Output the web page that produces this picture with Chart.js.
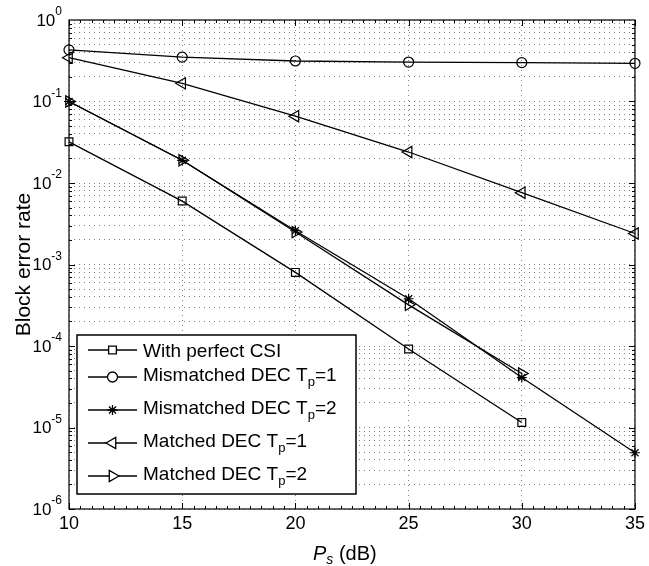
<!DOCTYPE html>
<html>
<head>
<meta charset="utf-8">
<script src="https://cdn.jsdelivr.net/npm/chart.js@4.4.1/dist/chart.umd.min.js"></script>
<style>
  html, body { margin: 0; padding: 0; background: #fff; }
  #wrap { width: 649px; height: 566px; position: relative; }
</style>
</head>
<body>
<div id="wrap"><canvas id="chart" width="649" height="566"></canvas></div>
<script>
// data
const xValues = [10, 15, 20, 25, 30, 35]
const perfectCSI = [0.032, 0.006, 0.0008, 0.000092, 0.0000115]
const mismatchedTp1 = [0.43, 0.35, 0.314, 0.305, 0.30, 0.294]
const mismatchedTp2 = [0.10, 0.019, 0.0026, 0.00038, 0.000041, 0.0000049]
const matchedTp1 = [0.345, 0.167, 0.066, 0.024, 0.0076, 0.0024]
const matchedTp2 = [0.10, 0.019, 0.0025, 0.00032, 0.000046]
const xTicks = [10, 15, 20, 25, 30, 35]
const yTickExponents = [0, -1, -2, -3, -4, -5, -6]

const FONT = "'Liberation Sans', Arial, Helvetica, sans-serif"

const toPoints = (ys) => ys.map((y, i) => ({ x: xValues[i], y }))

function series(label, ys, style, rotation, radius) {
  return {
    label,
    data: toPoints(ys),
    borderColor: '#000',
    borderWidth: 1.3,
    pointStyle: style,
    rotation: rotation || 0,
    pointRadius: radius,
    pointBorderColor: '#000',
    pointBackgroundColor: 'rgba(0,0,0,0)',
    pointBorderWidth: 1.2,
    clip: false,
    // legend parts: text before and after the subscript
    legendParts: label.includes('T_p') ? label.split(/T_p/) : [label],
  }
}

const datasets = [
  series('With perfect CSI', perfectCSI, 'rect', 0, 5.5),
  series('Mismatched DEC T_p=1', mismatchedTp1, 'circle', 0, 5),
  series('Mismatched DEC T_p=2', mismatchedTp2, 'star', 0, 5),
  series('Matched DEC T_p=1', matchedTp1, 'triangle', -90, 6.5),
  series('Matched DEC T_p=2', matchedTp2, 'triangle', 90, 6.5),
]

// frame, inward tick marks, y labels, axis titles and legend
const decorations = {
  id: 'decorations',
  afterDatasetsDraw(chart) {
    const { ctx, chartArea: a, scales } = chart
    const xs = scales.x, ys = scales.y
    ctx.save()
    ctx.strokeStyle = '#000'
    ctx.lineWidth = 1.2
    ctx.strokeRect(a.left, a.top, a.right - a.left, a.bottom - a.top)

    // y ticks (major + minor), both sides
    ctx.lineWidth = 1
    ctx.beginPath()
    for (let e = 0; e >= -6; e--) {
      for (let m = 1; m <= 9; m++) {
        const v = m * Math.pow(10, e - 1)
        if (v < 1e-6 || v > 1) continue
        const y = Math.round(ys.getPixelForValue(v)) + 0.5
        const len = m === 1 ? 6 : 3
        ctx.moveTo(a.left, y); ctx.lineTo(a.left + len, y)
        ctx.moveTo(a.right, y); ctx.lineTo(a.right - len, y)
      }
    }
    // x ticks
    for (let v = 10; v <= 35; v += 0.5) {
      const x = Math.round(xs.getPixelForValue(v)) + 0.5
      const len = v % 5 === 0 ? 6 : 3
      ctx.moveTo(x, a.bottom); ctx.lineTo(x, a.bottom - len)
      ctx.moveTo(x, a.top); ctx.lineTo(x, a.top + len)
    }
    ctx.stroke()

    // y tick labels 10^e
    ctx.fillStyle = '#000'
    ctx.textBaseline = 'middle'
    yTickExponents.forEach((e) => {
      const y = ys.getPixelForValue(Math.pow(10, e))
      const exp = String(e)
      ctx.font = '12px ' + FONT
      const ew = ctx.measureText(exp).width
      const right = a.left - 7
      ctx.textAlign = 'left'
      ctx.fillText(exp, right - ew, y - 8)
      ctx.font = '17px ' + FONT
      ctx.textAlign = 'right'
      ctx.fillText('10', right - ew, y + 1)
    })

    // y title
    ctx.save()
    ctx.translate(24, (a.top + a.bottom) / 2)
    ctx.rotate(-Math.PI / 2)
    ctx.textAlign = 'center'
    ctx.textBaseline = 'middle'
    ctx.font = '21px ' + FONT
    ctx.fillText('Block error rate', 0, 0)
    ctx.restore()

    // x title: P_s (dB)
    ctx.textAlign = 'left'
    ctx.textBaseline = 'alphabetic'
    let tx = 313
    const ty = 560
    ctx.font = 'italic 20px ' + FONT
    ctx.fillText('P', tx, ty)
    tx += ctx.measureText('P').width
    ctx.font = 'italic 14px ' + FONT
    ctx.fillText('s', tx, ty + 4)
    tx += ctx.measureText('s').width
    ctx.font = '20px ' + FONT
    ctx.fillText(' (dB)', tx, ty)

    // legend
    const box = { l: 77, t: 335, r: 356, b: 494 }
    ctx.fillStyle = '#fff'
    ctx.fillRect(box.l, box.t, box.r - box.l, box.b - box.t)
    ctx.lineWidth = 1.5
    ctx.strokeStyle = '#000'
    ctx.strokeRect(box.l, box.t, box.r - box.l, box.b - box.t)
    const rowY = [350, 377, 410, 443, 476]
    chart.data.datasets.forEach((ds, i) => {
      const y = rowY[i]
      ctx.lineWidth = 1.3
      ctx.strokeStyle = '#000'
      ctx.beginPath()
      ctx.moveTo(88, y); ctx.lineTo(137, y)
      ctx.stroke()
      ctx.fillStyle = '#fff'
      Chart.helpers.drawPoint(ctx, {
        pointStyle: ds.pointStyle, rotation: ds.rotation,
        radius: ds.pointRadius, borderWidth: 1.2,
      }, 112.5, y)
      ctx.fillStyle = '#000'
      ctx.textBaseline = 'alphabetic'
      const parts = ds.legendParts
      const sub = parts.length > 1
      const base = sub ? y + 4 : y + 7
      let x = 143
      ctx.font = '19px ' + FONT
      const head = parts[0] + (sub ? 'T' : '')
      ctx.fillText(head, x, base)
      x += ctx.measureText(head).width
      if (sub) {
        ctx.font = '13px ' + FONT
        ctx.fillText('p', x, base + 5)
        x += ctx.measureText('p').width
        ctx.font = '19px ' + FONT
        ctx.fillText(parts[1], x, base)
      }
    })
    ctx.restore()
  }
}

new Chart(document.getElementById('chart'), {
  type: 'line',
  data: { datasets },
  options: {
    responsive: false,
    animation: false,
    events: [],
    layout: { padding: { left: 0, right: 9, top: 20, bottom: 0 } },
    plugins: { legend: { display: false }, tooltip: { enabled: false } },
    scales: {
      x: {
        type: 'linear',
        min: 10,
        max: 35,
        afterBuildTicks: (s) => { s.ticks = xTicks.map((v) => ({ value: v })) },
        afterFit: (s) => { s.height = 57 },
        ticks: { color: '#000', font: { size: 18, family: FONT }, padding: 4, autoSkip: false, maxRotation: 0 },
        grid: { color: 'rgba(0,0,0,0.5)', drawTicks: false, lineWidth: 1 },
        border: { display: false, dash: [1, 4] },
      },
      y: {
        type: 'logarithmic',
        min: 1e-6,
        max: 1,
        afterBuildTicks: (s) => {
          const t = []
          for (let e = -6; e <= 0; e++) {
            for (let m = 1; m <= 9; m++) {
              const v = m * Math.pow(10, e)
              if (v <= 1) t.push({ value: v })
            }
          }
          s.ticks = t
        },
        afterFit: (s) => { s.width = 69 },
        ticks: { display: false, autoSkip: false },
        grid: { color: 'rgba(0,0,0,0.5)', drawTicks: false, lineWidth: 1 },
        border: { display: false, dash: [1, 4] },
      },
    },
  },
  plugins: [decorations],
})
</script>
</body>
</html>
